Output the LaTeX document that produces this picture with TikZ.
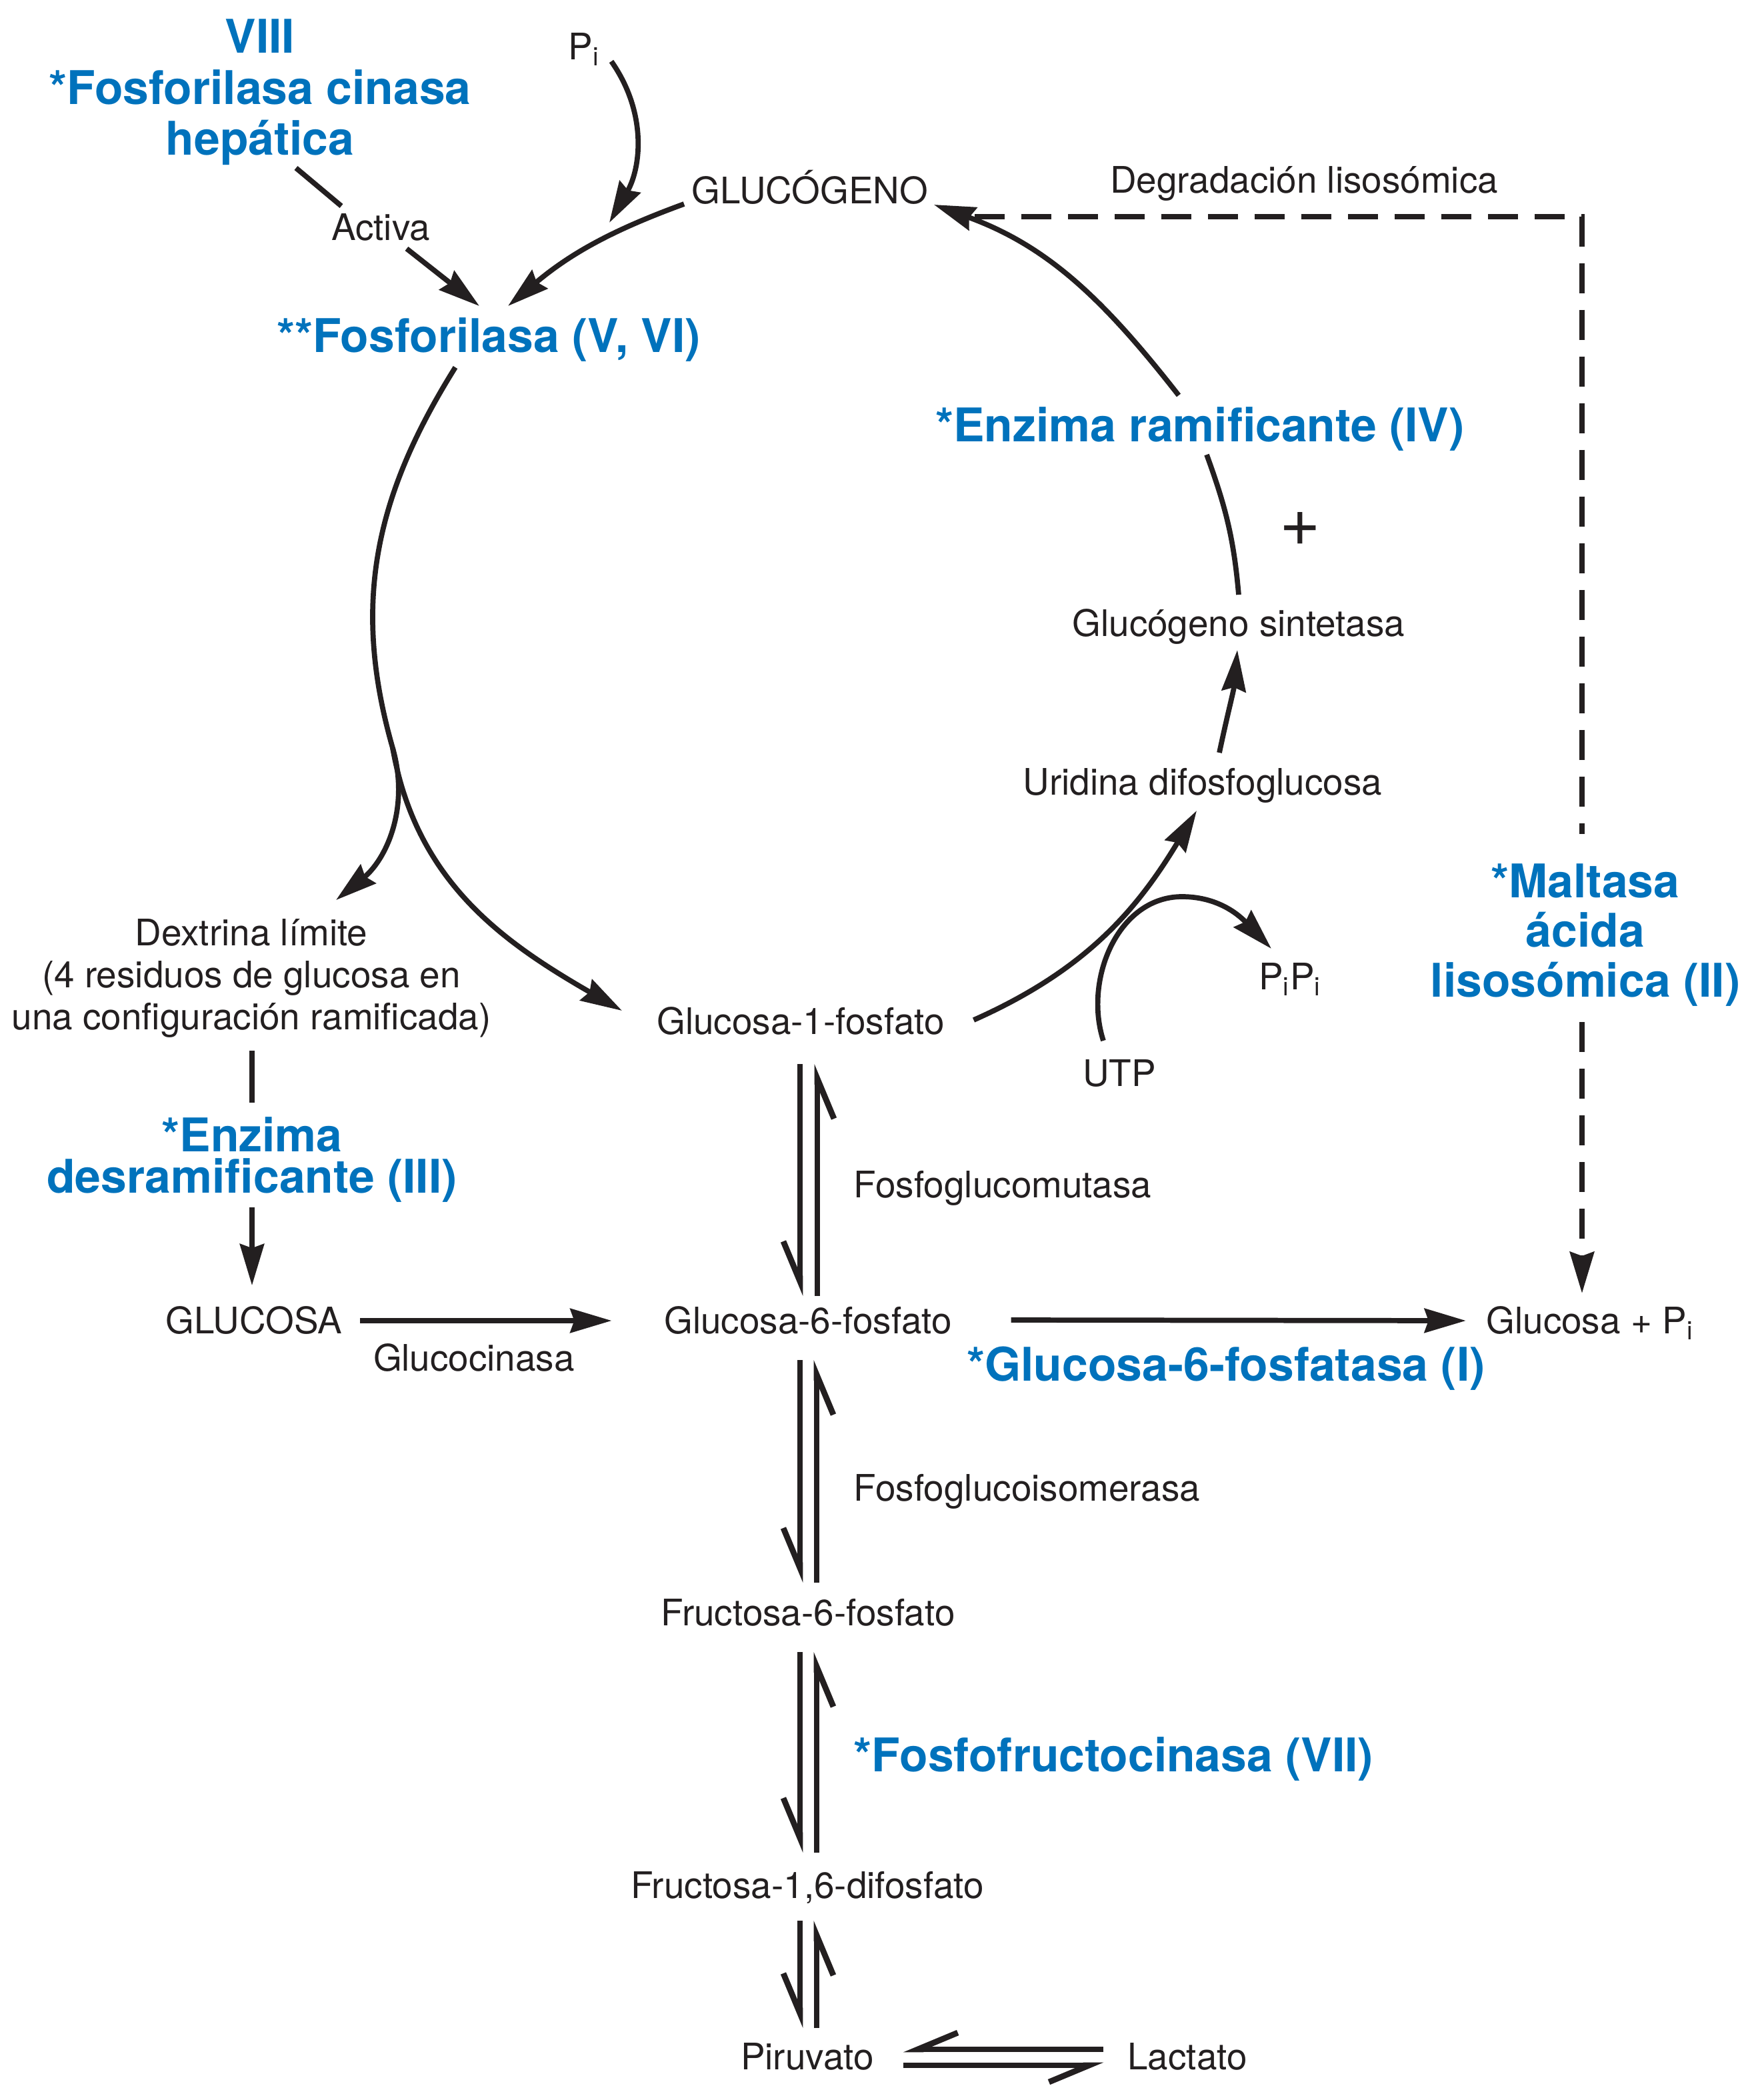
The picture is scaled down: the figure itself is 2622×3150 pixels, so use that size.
\documentclass[tikz,border=0pt]{standalone}
\usepackage{fontspec}
\setmainfont{TeX Gyre Heros}
\usetikzlibrary{arrows.meta,calc}
\definecolor{ink}{HTML}{231F20}
\definecolor{enzblue}{HTML}{0072BC}

\begin{document}
\begin{tikzpicture}[x = .01cm, y = .01cm, line width = 2.2pt, color = ink,
	txt/.style = {inner sep = 0pt, anchor = base, text = ink, font = \fontsize{15.6}{17.8}\selectfont},
	enz/.style = {inner sep = 0pt, anchor = base, text = enzblue, font = \bfseries\fontsize{19.8}{21.8}\selectfont},
	arr/.style = {-{Stealth[length = .62cm, width = .36cm, inset = .06cm]}},
	harp/.style = {line width = 2.5pt, -{Straight Barb[harpoon, swap, length = .6cm, width = .5cm]}},
	lyso/.style = {dash pattern = on .45cm off .25cm, line width = 2.4pt}]
		\useasboundingbox (0,0) rectangle (2622,-3150);
		
		\node (Kin) at (390,-138.5) [enz, anchor = center, align = center] {VIII\\{*}Fosforilasa cinasa\\hepática};
		\node (Pi) at (876,-89) [txt] {P\textsubscript{i}};
		\node (G) at (1215,-305) [txt] {GLUCÓGENO};
		\node (Act) at (571,-360) [txt] {Activa};
		\node (Fos) at (733,-528) [enz] {**Fosforilasa (V, VI)};
		\node (Deg) at (1956,-289) [txt] {Degradación lisosómica};
		\coordinate (Pj) at (914,-334);
		
		\draw ($(Kin.south)+(54,0)$) -- ($(Act.base)+(-59,51)$);
		\draw [arr] ($(Act.base)+(39,-13)$) -- ($(Fos.base)+(-14,69)$);
		\draw [arr] ($(Pi.base)+(41,-3)$) to[out = -55, in = 60] (Pj);
		\draw [arr] ($(G.base west)+(-8,-1)$) to[out = 200, in = 40] ($(Fos.base)+(29,69)$);
		
		\node (Ram) at (1800,-662) [enz] {*Enzima ramificante (IV)};
		\node (plus) at (1950,-793) [txt, anchor = center, font = \fontsize{30}{32}\selectfont] {+};
		\node (Sin) at (1858,-954) [txt] {Glucógeno sintetasa};
		\node (UDPG) at (1804,-1192) [txt] {Uridina difosfoglucosa};
		\node (PP) at (1935,-1484) [txt] {P\textsubscript{i}P\textsubscript{i}};
		\node (UTP) at (1679,-1629) [txt] {UTP};
		\coordinate (Ut) at (1773,-1345);
		
		\draw [arr] ($(Ram.base)+(-32,69)$) to[out = 128, in = -20] ($(G.base east)+(5,-2)$);
		\draw ($(Sin.base)+(0,62)$) to[out = 95, in = -70] ($(Ram.base)+(10,-20)$);
		\draw [arr] ($(UDPG.base)+(25,63)$) to[out = 78, in = -95] ($(Sin.base)+(-2,-21)$);
		
		\node (Dex) at (377,-1467.5) [txt, anchor = center, align = center] {Dextrina límite\\(4 residuos de glucosa en\\una configuración ramificada)};
		\node (G1P) at (1201,-1551) [txt] {Glucosa-1-fosfato};
		\node (Des) at (378,-1739.5) [enz, anchor = center, align = center, font = \bfseries\fontsize{19.8}{17.9}\selectfont] {{*}Enzima\\desramificante (III)};
		\node (Mut) at (1277,-1796) [txt, anchor = base west] {Fosfoglucomutasa};
		\node (Mal) at (2378,-1402.5) [enz, anchor = center, align = center, font = \bfseries\fontsize{19.8}{21.2}\selectfont] {{*}Maltasa\\ácida\\lisosómica (II)};
		\coordinate (br) at (589,-1122);
		
		\draw [arr] ($(Fos.base)+(-50,-23)$) to[out = 238, in = 106] (br) to[out = -80, in = 150] ($(G1P.base)+(-268,35)$);
		\draw [arr] (br) to[out = -74, in = 39] ($(Dex.north)+(127,25)$);
		\draw [arr] ($(G1P.base east)+(40,21)$) to[out = 24, in = 239] ($(UDPG.base)+(-9,-24)$);
		\draw [arr] ($(UTP.base)+(-24,68)$) to[out = 108, in = 180] (Ut) to[out = 0, in = 134] ($(PP.base)+(-28,61)$);
		\draw ($(Dex.south)+(1,-16)$) -- ($(Des.north)+(0,17)$);
		
		\node (Glc) at (381,-2000) [txt] {GLUCOSA};
		\node (Gck) at (711,-2056) [txt] {Glucocinasa};
		\node (G6P) at (1212,-2000) [txt] {Glucosa-6-fosfato};
		\node (GPi) at (2385,-2000) [txt] {Glucosa + P\textsubscript{i}};
		\node (Fas) at (1839,-2071) [enz] {*Glucosa-6-fosfatasa (I)};
		
		\draw [arr] ($(Des.south)+(0,-3)$) -- ($(Glc.north)+(-3,27)$);
		\draw [arr] ($(Glc.base east)+(23,19)$) -- ($(G6P.base west)+(-75,19)$);
		\draw [arr] ($(G6P.base east)+(85,20)$) -- ($(GPi.base west)+(-27,19)$);
		\draw [lyso] ($(G.base east)+(66,-20)$) -| ($(Mal.north)+(-5,41)$);
		\draw [lyso, arr] ($(Mal.south)+(-5,-20)$) -- ($(GPi.base)+(-12,60)$);
		
		\node (Iso) at (1277,-2251) [txt, anchor = base west] {Fosfoglucoisomerasa};
		\node (F6P) at (1212,-2438) [txt] {Fructosa-6-fosfato};
		\node (PFK) at (1277,-2657) [enz, anchor = base west] {*Fosfofructocinasa (VII)};
		\node (F16) at (1211,-2847) [txt] {Fructosa-1,6-difosfato};
		\node (Pir) at (1211,-3104) [txt] {Piruvato};
		\node (Lac) at (1781,-3104) [txt] {Lactato};
		
		\draw [harp] ($(G1P.base)+(-1,-45)$) -- ($(G6P.base)+(-12,56)$);
		\draw [harp] ($(G6P.base)+(14,56)$) -- ($(G1P.base)+(25,-45)$);
		\draw [harp] ($(G6P.base)+(-12,-40)$) -- ($(F6P.base)+(-12,64)$);
		\draw [harp] ($(F6P.base)+(13,64)$) -- ($(G6P.base)+(13,-40)$);
		\draw [harp] ($(F6P.base)+(-12,-40)$) -- ($(F16.base)+(-11,68)$);
		\draw [harp] ($(F16.base)+(14,68)$) -- ($(F6P.base)+(13,-40)$);
		\draw [harp] ($(F16.base)+(-11,-34)$) -- ($(Pir.base)+(-11,62)$);
		\draw [harp] ($(Pir.base)+(14,62)$) -- ($(F16.base)+(14,-34)$);
		\draw [harp] ($(Lac.base west)+(-32,30)$) -- ($(Pir.base east)+(40,30)$);
		\draw [harp] ($(Pir.base east)+(40,6)$) -- ($(Lac.base west)+(-32,6)$);
\end{tikzpicture}
\end{document}
